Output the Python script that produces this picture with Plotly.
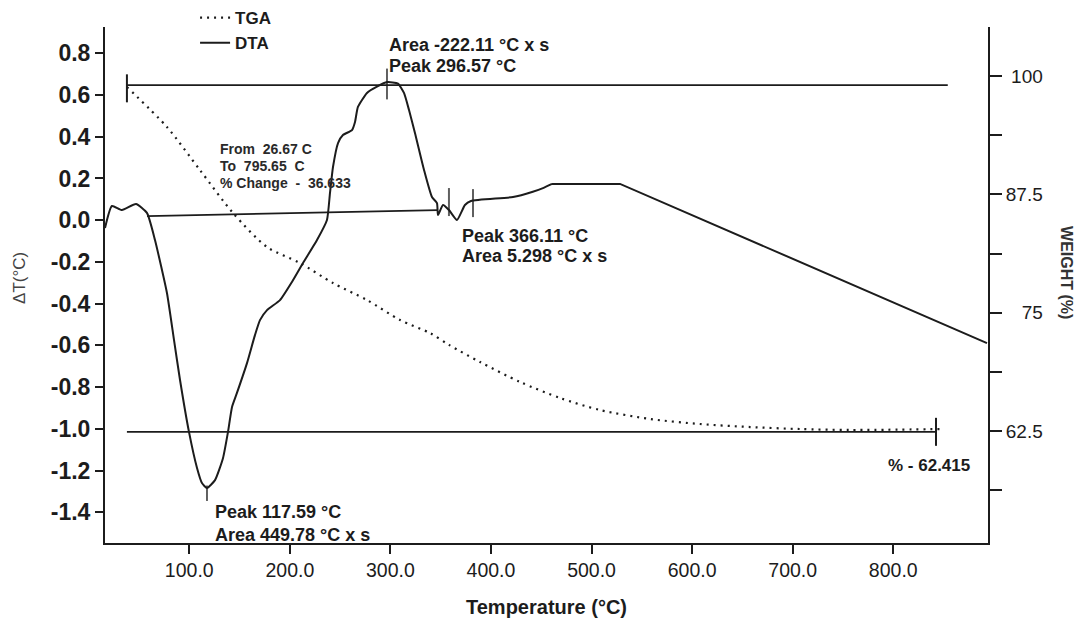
import plotly.graph_objects as go

# ---------------- data ----------------
# DTA curve: temperature (°C) and ΔT (°C)
dta_temp = [16.2, 23.1, 33.1, 47.0, 57.9, 65.9, 77.8, 84.8, 90.8, 99.7, 107.7, 112.6,
            117.6, 125.6, 133.5, 138.5, 142.5, 147.4, 157.4, 165.3, 170.3, 177.3, 190.2,
            202.1, 213.1, 227.0, 236.9, 239.9, 242.9, 247.9, 252.8, 261.8, 264.8, 267.7,
            276.7, 286.6, 296.6, 307.5, 313.5, 318.5, 324.4, 333.4, 341.3, 346.3, 347.3,
            352.3, 358.2, 366.2, 374.1, 380.1, 421.9, 440.8, 451.7, 460.7, 528.3, 893.2]
dta_val = [-0.037, 0.068, 0.049, 0.078, 0.035, -0.095, -0.349, -0.574, -0.766, -1.015,
           -1.188, -1.260, -1.284, -1.246, -1.141, -1.015, -0.895, -0.828, -0.685, -0.551,
           -0.479, -0.431, -0.383, -0.296, -0.205, -0.095, 0.001, 0.130, 0.255, 0.370,
           0.408, 0.432, 0.471, 0.543, 0.610, 0.640, 0.662, 0.655, 0.610, 0.528, 0.418,
           0.241, 0.111, 0.082, 0.025, 0.073, 0.049, 0.001, 0.073, 0.092, 0.111, 0.135,
           0.154, 0.174, 0.174, -0.589]
DTA_SPLIT = 53  # index where the curve turns into the flat top + straight ramp

# DTA integration baseline
base_temp = [58.0, 347.0]
base_val = [0.020, 0.048]

# DTA analysis marks (peak / integration limits)
dta_mark_temp = [296.57, 117.59, 358.2, 382.1]
dta_mark_val = [0.653, -1.309, 0.087, 0.082]
dta_mark_len = [22, 11, 20, 20]

# TGA curve: temperature (°C) and weight (%)
tga_temp = [38.0, 77.8, 110.6, 143.5, 177.3, 210.1, 242.9, 276.7, 309.5, 339.4, 358.2,
            389.1, 428.9, 468.7, 508.4, 558.1, 607.8, 657.6, 707.3, 757.0, 848.5]
tga_weight = [98.84, 94.61, 90.07, 85.53, 81.94, 80.25, 78.13, 76.34, 74.23, 72.85, 71.6,
              69.79, 67.68, 65.99, 64.72, 63.77, 63.24, 62.92, 62.71, 62.61, 62.71]

# TGA reference levels (start / end weight)
tga_ref_start = [38.0, 854.2]
tga_ref_top = 99.048
tga_ref_end = [38.0, 842.5]
tga_ref_bottom = 62.415
tga_mark_temp = [38.0, 842.5]
tga_mark_w = [98.7, 62.415]

# axis ticks
x_ticks = [100, 200, 300, 400, 500, 600, 700, 800]
x_ticktext = ["100.0", "200.0", "300.0", "400.0", "500.0", "600.0", "700.0", "800.0"]
dt_ticks = [-1.4, -1.2, -1.0, -0.8, -0.6, -0.4, -0.2, 0.0, 0.2, 0.4, 0.6, 0.8]
dt_ticktext = ["-1.4", "-1.2", "-1.0", "-0.8", "-0.6", "-0.4", "-0.2", "0.0", "0.2", "0.4", "0.6", "0.8"]
w_ticks = [56.25, 62.5, 68.75, 75, 81.25, 87.5, 93.75, 100]
w_ticktext = ["", "62.5", "", "\u2007\u200875", "", "87.5", "", "\u2008100"]

X_RANGE = [16.2, 894.2]
DT_RANGE = [-1.5475, 0.9262]
W_RANGE = [50.67, 105.18]

INK = "#1c1c1c"
FONT = "Liberation Sans, Arial, sans-serif"

fig = go.Figure()

# TGA (dotted)
fig.add_trace(go.Scatter(x=tga_temp, y=tga_weight, yaxis="y2", mode="lines", name="TGA",
                         line=dict(color=INK, width=2.2, dash="2px,5px", shape="spline", smoothing=0.8)))
# DTA (solid): smooth part + flat top / straight ramp
fig.add_trace(go.Scatter(x=dta_temp[:DTA_SPLIT + 1], y=dta_val[:DTA_SPLIT + 1], mode="lines",
                         name="DTA", legendgroup="dta",
                         line=dict(color=INK, width=2, shape="spline", smoothing=0.5)))
fig.add_trace(go.Scatter(x=dta_temp[DTA_SPLIT:], y=dta_val[DTA_SPLIT:], mode="lines",
                         showlegend=False, legendgroup="dta",
                         line=dict(color=INK, width=2)))
# DTA baseline
fig.add_trace(go.Scatter(x=base_temp, y=base_val, mode="lines", showlegend=False,
                         line=dict(color=INK, width=1.8)))
# DTA marks
fig.add_trace(go.Scatter(x=dta_mark_temp, y=dta_mark_val, mode="markers", showlegend=False,
                         marker=dict(symbol="line-ns", size=dta_mark_len,
                                     line=dict(color=INK, width=2))))
# TGA reference lines
fig.add_trace(go.Scatter(x=tga_ref_start, y=[tga_ref_top, tga_ref_top], yaxis="y2", mode="lines",
                         showlegend=False, line=dict(color=INK, width=1.8)))
fig.add_trace(go.Scatter(x=tga_ref_end, y=[tga_ref_bottom, tga_ref_bottom], yaxis="y2", mode="lines",
                         showlegend=False, line=dict(color=INK, width=1.8)))
fig.add_trace(go.Scatter(x=tga_mark_temp, y=tga_mark_w, yaxis="y2", mode="markers", showlegend=False,
                         marker=dict(symbol="line-ns", size=20, line=dict(color=INK, width=2))))

ann_font = dict(family=FONT, size=18, color=INK, weight="bold")
small_font = dict(family=FONT, size=14, color="#2a2a2a", weight="bold")


def label(x, y, text, font, xanchor="left"):
    return dict(x=x, y=y, xref="x", yref="y", text=text, xanchor=xanchor, yanchor="middle",
                showarrow=False, font=font)


annotations = [
    label(296.6, 0.840, "Area -222.11 °C x s", ann_font),
    label(296.6, 0.739, "Peak 296.57 °C", ann_font),
    label(369.2, -0.076, "Peak 366.11 °C", ann_font),
    label(369.2, -0.172, "Area 5.298 °C x s", ann_font),
    label(123.6, -1.399, "Peak 117.59 °C", ann_font),
    label(123.6, -1.509, "Area 449.78 °C x s", ann_font),
    label(878.2, -1.178, "% - 62.415", dict(family=FONT, size=17, color=INK, weight="bold"),
          xanchor="right"),
    label(128.5, 0.341, "From\u00a0\u00a026.67 C", small_font),
    label(128.5, 0.260, "To\u00a0 795.65\u00a0 C", small_font),
    label(128.5, 0.178, "% Change\u00a0 -\u00a0 36.633", small_font),
    dict(x=-0.0963, y=0.5136, xref="paper", yref="paper", text="ΔT(°C)", textangle=-90,
         xanchor="center", yanchor="middle",
         showarrow=False, font=dict(family=FONT, size=17, color="#444")),
    dict(x=1.0895, y=0.525, xref="paper", yref="paper", text="WEIGHT (%)", textangle=90,
         xanchor="center", yanchor="middle",
         showarrow=False, font=dict(family=FONT, size=16, color="#333", weight="bold")),
]

fig.update_layout(
    width=1082, height=621,
    margin=dict(l=105, r=94, t=27, b=78, autoexpand=False),
    paper_bgcolor="white", plot_bgcolor="white",
    font=dict(family=FONT, color=INK),
    showlegend=True,
    legend=dict(x=0.102, y=1.052, xanchor="left", yanchor="top", bgcolor="rgba(0,0,0,0)",
                font=dict(family=FONT, size=17, color=INK, weight="bold"), tracegroupgap=0,
                itemwidth=30),
    annotations=annotations,
    xaxis=dict(range=X_RANGE, tickvals=x_ticks, ticktext=x_ticktext, ticks="outside",
               ticklen=9, tickwidth=2, tickcolor=INK, showline=True, linewidth=2, linecolor=INK,
               showgrid=False, zeroline=False, automargin=False,
               tickfont=dict(family=FONT, size=19.5, color=INK),
               title=dict(text="Temperature (°C)", standoff=20,
                          font=dict(family=FONT, size=20, color=INK, weight="bold"))),
    yaxis=dict(range=DT_RANGE, tickvals=dt_ticks, ticktext=dt_ticktext, ticks="outside",
               ticklen=8, tickwidth=2, tickcolor=INK, showline=True, linewidth=2, linecolor=INK,
               showgrid=False, zeroline=False, automargin=False,
               tickfont=dict(family=FONT, size=23, color=INK, weight="bold")),
    yaxis3=dict(range=DT_RANGE, overlaying="y", side="left", tickvals=dt_ticks, ticks="inside",
                ticklen=13, tickwidth=2, tickcolor=INK, showline=False, showticklabels=False,
                showgrid=False, zeroline=False, automargin=False),
    yaxis2=dict(range=W_RANGE, overlaying="y", side="right", tickvals=w_ticks, ticktext=w_ticktext,
                ticks="outside", ticklen=12, tickwidth=2, tickcolor=INK, showline=True, linewidth=2,
                linecolor=INK, showgrid=False, zeroline=False, automargin=False,
                tickfont=dict(family=FONT, size=19, color=INK)),
    yaxis4=dict(range=W_RANGE, overlaying="y", side="right", tickvals=w_ticks, ticks="inside",
                ticklen=10, tickwidth=2, tickcolor=INK, showline=False, showticklabels=False,
                showgrid=False, zeroline=False, automargin=False),
)

fig.write_html("out.html")
